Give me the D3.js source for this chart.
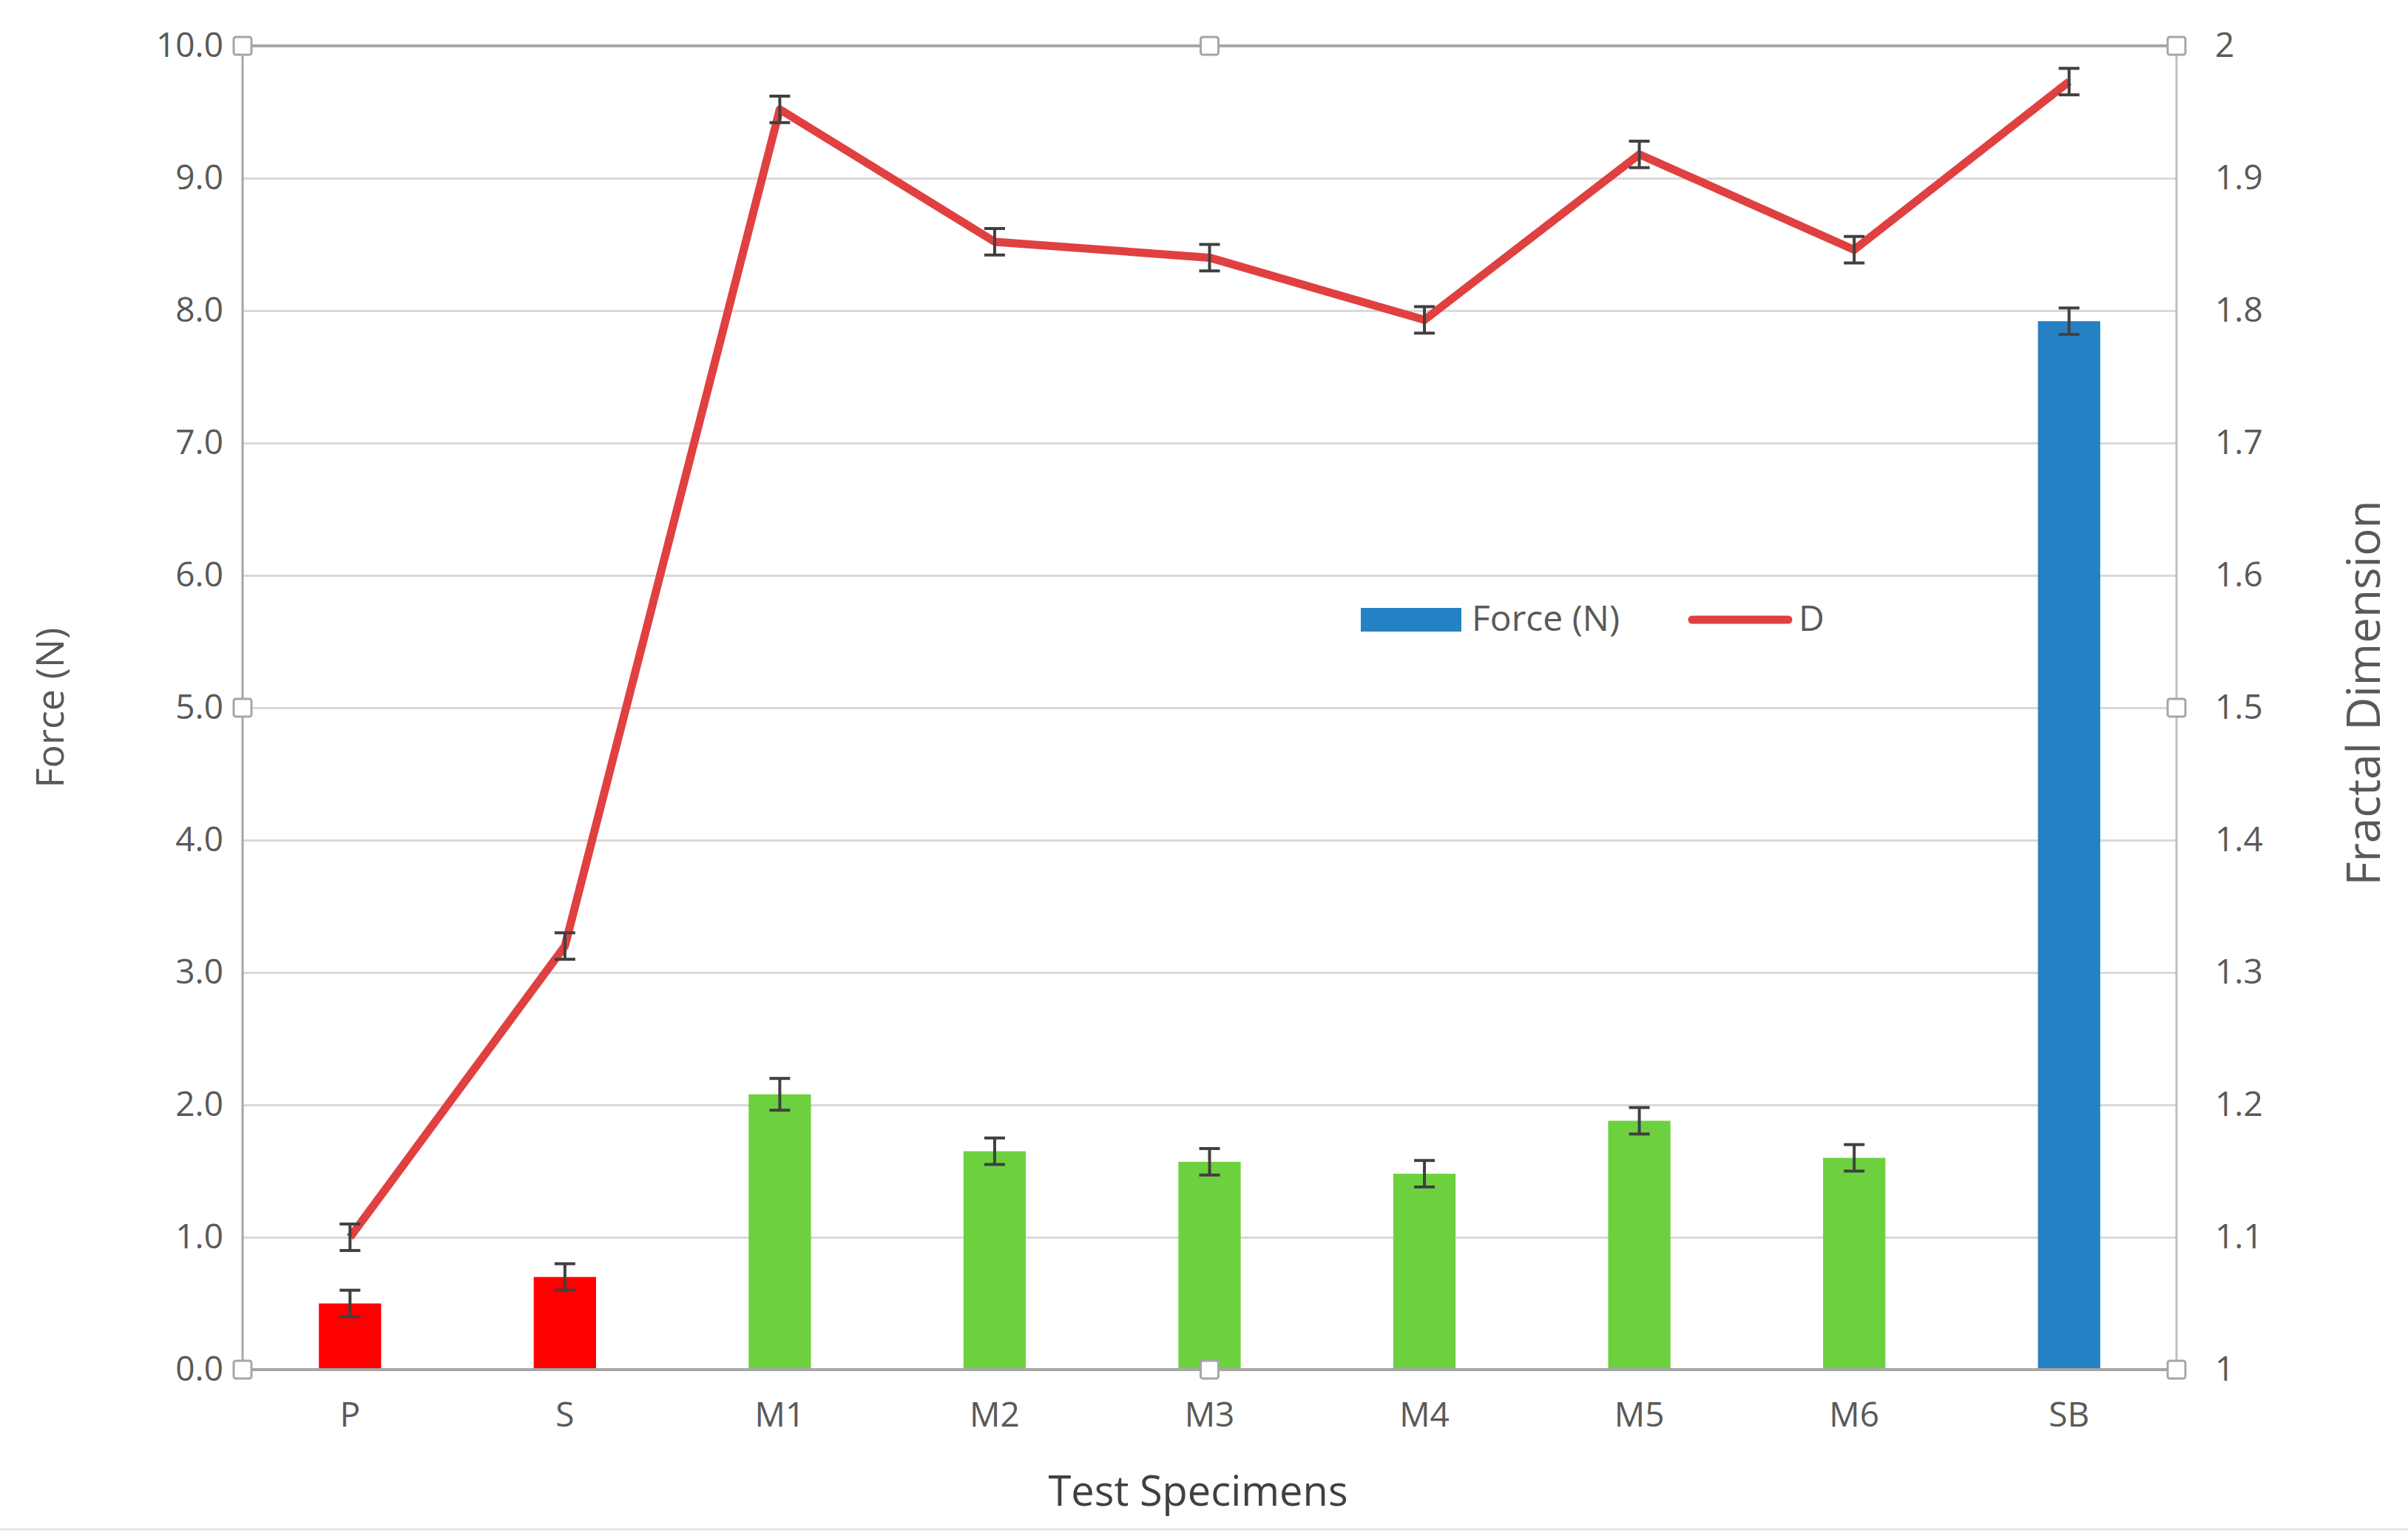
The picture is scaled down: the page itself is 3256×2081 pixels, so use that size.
<!DOCTYPE html>
<html><head><meta charset="utf-8">
<script src="https://cdn.jsdelivr.net/npm/d3@7"></script>
<style>body{margin:0;background:#fff}text{font-family:"Open Sans","Noto Sans",sans-serif;fill:#595959}</style>
</head><body><svg id="c" width="3256" height="2081"></svg>
<script>
const categories=["P","S","M1","M2","M3","M4","M5","M6","SB"];
const force=[0.5,0.7,2.08,1.65,1.57,1.48,1.88,1.6,7.92];
const forceErr=[0.1,0.1,0.12,0.1,0.1,0.1,0.1,0.1,0.1];
const barColors=["#ff0000","#ff0000","#6dd13f","#6dd13f","#6dd13f","#6dd13f","#6dd13f","#6dd13f","#2581c4"];
const dVals=[1.1,1.32,1.952,1.852,1.84,1.793,1.918,1.846,1.973];
const dErr=[0.01,0.01,0.01,0.01,0.01,0.01,0.01,0.01,0.01];
const leftTicks=[0,1,2,3,4,5,6,7,8,9,10];
const rightTicks=[1,1.1,1.2,1.3,1.4,1.5,1.6,1.7,1.8,1.9,2];

const svg=d3.select("#c");
const L=328,R=2943,T=62,B=1852;
const x=d3.scaleBand().domain(categories).range([L,R]);
const yL=d3.scaleLinear().domain([0,10]).range([B,T]);
const yR=d3.scaleLinear().domain([1,2]).range([B,T]);

// grid
svg.append("g").call(d3.axisLeft(yL).tickValues(leftTicks).tickSize(-(R-L)).tickFormat(d3.format(".1f")))
 .attr("transform",`translate(${L},0)`)
 .call(g=>{g.select(".domain").remove();g.selectAll("line").attr("stroke","#d9d9d9").attr("stroke-width",3);
   g.selectAll("text").attr("x",-26).style("font-size","46px");});
svg.append("g").attr("transform",`translate(${R},0)`).call(d3.axisRight(yR).tickValues(rightTicks).tickSize(0).tickFormat(d=>d3.format("")(+d.toFixed(1))))
 .call(g=>{g.select(".domain").remove();g.selectAll("text").attr("x",52).style("font-size","46px");});
// frame
svg.append("line").attr("x1",L).attr("x2",R).attr("y1",T).attr("y2",T).attr("stroke","#a6a6a6").attr("stroke-width",4);
svg.append("line").attr("x1",L).attr("x2",L).attr("y1",T).attr("y2",B).attr("stroke","#a6a6a6").attr("stroke-width",3);
svg.append("line").attr("x1",R).attr("x2",R).attr("y1",T).attr("y2",B).attr("stroke","#bfbfbf").attr("stroke-width",3);

// bars
const bw=x.bandwidth()*0.29;
svg.selectAll(".bar").data(force).join("rect").attr("x",(d,i)=>x(categories[i])+x.bandwidth()/2-bw/2)
 .attr("y",d=>yL(d)).attr("width",bw).attr("height",d=>B-yL(d)).attr("fill",(d,i)=>barColors[i]);
function errbars(vals,errs,y){
 const g=svg.append("g").attr("stroke","#404040").attr("stroke-width",4);
 vals.forEach((v,i)=>{const cx=x(categories[i])+x.bandwidth()/2;
  g.append("line").attr("x1",cx).attr("x2",cx).attr("y1",y(v-errs[i])).attr("y2",y(v+errs[i]));
  [v-errs[i],v+errs[i]].forEach(e=>g.append("line").attr("x1",cx-14).attr("x2",cx+14).attr("y1",y(e)).attr("y2",y(e)));});
}
errbars(force,forceErr,yL);
// x axis line
svg.append("line").attr("x1",L).attr("x2",R).attr("y1",B).attr("y2",B).attr("stroke","#a6a6a6").attr("stroke-width",4);
// D line
svg.append("path").datum(dVals).attr("fill","none").attr("stroke","#e04040").attr("stroke-width",11).attr("stroke-linejoin","round")
 .attr("d",d3.line().x((d,i)=>x(categories[i])+x.bandwidth()/2).y(d=>yR(d)));
errbars(dVals,dErr,yR);

// x labels
svg.append("g").attr("transform",`translate(0,${B})`).call(d3.axisBottom(x).tickSize(0))
 .call(g=>{g.select(".domain").remove();g.selectAll("text").attr("dy","1.6em").style("font-size","46px");});

// handles
[[L,T],[(L+R)/2,T],[R,T],[L,(T+B)/2],[R,(T+B)/2],[L,B],[(L+R)/2,B],[R,B]].forEach(p=>
 svg.append("rect").attr("x",p[0]-12).attr("y",p[1]-12).attr("width",24).attr("height",24).attr("rx",3).attr("fill","#fff").attr("stroke","#a6a6a6").attr("stroke-width",3));

// titles
svg.append("text").attr("x",1620).attr("y",2036).attr("text-anchor","middle").style("font-size","56px").style("fill","#404040").text("Test Specimens");
svg.append("text").attr("transform",`translate(86,${(T+B)/2}) rotate(-90)`).attr("text-anchor","middle").style("font-size","52px").text("Force (N)");
svg.append("text").attr("transform",`translate(3218,${(T+B)/2-20}) rotate(-90)`).attr("text-anchor","middle").style("font-size","62px").text("Fractal Dimension");

// legend
svg.append("rect").attr("x",1840).attr("y",822).attr("width",136).attr("height",32).attr("fill","#2581c4");
svg.append("text").attr("x",1990).attr("y",853).style("font-size","48px").text("Force (N)");
svg.append("line").attr("x1",2288).attr("x2",2418).attr("y1",838).attr("y2",838).attr("stroke","#e04040").attr("stroke-width",11).attr("stroke-linecap","round");
svg.append("text").attr("x",2432).attr("y",853).style("font-size","48px").text("D");
// bottom border line
svg.append("line").attr("x1",0).attr("x2",3256).attr("y1",2068).attr("y2",2068).attr("stroke","#e6e6e6").attr("stroke-width",3);
</script></body></html>
